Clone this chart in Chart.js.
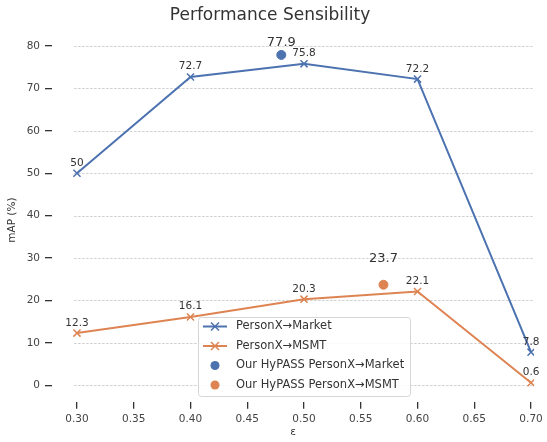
<!DOCTYPE html>
<html>
<head>
<meta charset="utf-8">
<script src="https://cdn.jsdelivr.net/npm/chart.js@4.4.0/dist/chart.umd.min.js"></script>
<style>
  html, body { margin: 0; padding: 0; background: #fff; }
  #wrap { width: 547px; height: 442px; }
</style>
</head>
<body>
<div id="wrap"><canvas id="grafico"></canvas></div>
<script>
// Dados
const epsilons    = [0.30, 0.40, 0.50, 0.60, 0.70];
const mapMarket   = [50, 72.7, 75.8, 72.2, 7.8];
const mapMSMT     = [12.3, 16.1, 20.3, 22.1, 0.6];
const hypassMarket = [{ x: 0.48, y: 77.9 }];
const hypassMSMT   = [{ x: 0.57, y: 23.7 }];
const yTicks = [0, 10, 20, 30, 40, 50, 60, 70, 80];
const xTicks = [0.30, 0.35, 0.40, 0.45, 0.50, 0.55, 0.60, 0.65, 0.70];

const AZUL = '#4C72B0';
const LARANJA = '#DD8452';
const FONTE = "'DejaVu Sans', sans-serif";

const pares = (xs, ys) => xs.map((x, i) => ({ x, y: ys[i] }));

// Grade horizontal tracejada (começa em 0.30, como no original)
const gradePlugin = {
  id: 'grade',
  beforeDatasetsDraw(chart) {
    const { ctx, chartArea, scales } = chart;
    const x0 = scales.x.getPixelForValue(0.2975);
    ctx.save();
    ctx.strokeStyle = '#c4c4c4';
    ctx.lineWidth = 0.8;
    ctx.setLineDash([2.5, 1.5]);
    yTicks.forEach(v => {
      const y = Math.round(scales.y.getPixelForValue(v)) + 0.5;
      ctx.beginPath();
      ctx.moveTo(x0, y);
      ctx.lineTo(chartArea.right, y);
      ctx.stroke();
    });
    ctx.restore();
  }
};

// Rótulos de valores sobre os pontos
const rotulosPlugin = {
  id: 'rotulos',
  afterDatasetsDraw(chart) {
    const { ctx } = chart;
    ctx.save();
    ctx.fillStyle = '#333';
    ctx.textAlign = 'center';
    ctx.textBaseline = 'bottom';
    chart.data.datasets.forEach((ds, i) => {
      const meta = chart.getDatasetMeta(i);
      const grande = ds.type === 'scatter';
      ctx.font = (grande ? '13px ' : '10.5px ') + FONTE;
      const dy = ds.rotuloDy || 5;
      meta.data.forEach((pt, j) => {
        const v = ds.data[j].y;
        ctx.fillText(String(v), pt.x, pt.y - dy);
      });
    });
    ctx.restore();
  }
};

// Legenda dentro da área do gráfico
const legendaPlugin = {
  id: 'legendaInterna',
  afterDraw(chart) {
    const { ctx } = chart;
    const bx = 198, by = 317, bw = 212, bh = 79;
    ctx.save();
    ctx.fillStyle = 'rgba(255,255,255,0.85)';
    ctx.strokeStyle = '#d6d6d6';
    ctx.lineWidth = 1;
    ctx.beginPath();
    ctx.roundRect(bx + 0.5, by + 0.5, bw, bh, 3);
    ctx.fill();
    ctx.stroke();
    ctx.font = '11.5px ' + FONTE;
    ctx.textBaseline = 'middle';
    ctx.textAlign = 'left';
    chart.data.datasets.forEach((ds, i) => {
      const cy = by + 9.5 + i * 19.5;
      if (ds.type === 'scatter') {
        ctx.fillStyle = ds.backgroundColor;
        ctx.beginPath();
        ctx.arc(215, cy, 4.5, 0, Math.PI * 2);
        ctx.fill();
      } else {
        ctx.strokeStyle = ds.borderColor;
        ctx.lineWidth = 2;
        ctx.beginPath();
        ctx.moveTo(203, cy);
        ctx.lineTo(227, cy);
        ctx.stroke();
        ctx.lineWidth = 1.5;
        ctx.beginPath();
        ctx.moveTo(211, cy - 4); ctx.lineTo(219, cy + 4);
        ctx.moveTo(211, cy + 4); ctx.lineTo(219, cy - 4);
        ctx.stroke();
      }
      ctx.fillStyle = '#333';
      ctx.fillText(ds.label, 236, cy);
    });
    ctx.restore();
  }
};

new Chart(document.getElementById('grafico'), {
  type: 'line',
  data: {
    datasets: [
      { label: 'PersonX→Market', data: pares(epsilons, mapMarket), borderColor: AZUL, backgroundColor: AZUL,
        borderWidth: 2, pointStyle: 'crossRot', pointRadius: 5, pointBorderWidth: 1.5, rotuloDy: 5 },
      { label: 'PersonX→MSMT', data: pares(epsilons, mapMSMT), borderColor: LARANJA, backgroundColor: LARANJA,
        borderWidth: 2, pointStyle: 'crossRot', pointRadius: 5, pointBorderWidth: 1.5, rotuloDy: 5 },
      { type: 'scatter', label: 'Our HyPASS PersonX→Market', data: hypassMarket, backgroundColor: AZUL,
        borderColor: AZUL, pointRadius: 4.5, rotuloDy: 6 },
      { type: 'scatter', label: 'Our HyPASS PersonX→MSMT', data: hypassMSMT, backgroundColor: LARANJA,
        borderColor: LARANJA, pointRadius: 4.5, rotuloDy: 20 },
    ],
  },
  options: {
    responsive: true, maintainAspectRatio: false, animation: false,
    layout: { padding: { left: 6, right: 13, top: 5, bottom: 3 } },
    plugins: {
      legend: { display: false },
      tooltip: { enabled: false },
      title: { display: true, text: 'Performance Sensibility', color: '#333',
        font: { family: FONTE, size: 17, weight: 'normal' }, padding: { top: 0, bottom: 13 } },
    },
    scales: {
      x: {
        type: 'linear', min: 0.278, max: 0.7026,
        afterBuildTicks: s => { s.ticks = xTicks.map(v => ({ value: v })); },
        ticks: { color: '#444', font: { family: FONTE, size: 10.5 }, padding: 4,
          callback: v => v.toFixed(2), maxRotation: 0 },
        grid: { drawOnChartArea: false, color: '#333', tickColor: '#333', tickLength: 7, lineWidth: 1.3 },
        border: { display: false },
        title: { display: true, text: 'ε', color: '#333', font: { family: FONTE, size: 10.5 }, padding: { top: -3, bottom: 0 } },
      },
      y: {
        min: -3.9, max: 81.8,
        afterBuildTicks: s => { s.ticks = yTicks.map(v => ({ value: v })); },
        afterFit: s => { s.width = 46; },
        ticks: { color: '#444', font: { family: FONTE, size: 10.5 }, padding: 5 },
        grid: { drawOnChartArea: false, color: '#333', tickColor: '#333', tickLength: 7, lineWidth: 1.3 },
        border: { display: false },
        title: { display: true, text: 'mAP (%)', color: '#333', font: { family: FONTE, size: 10.5 }, padding: 0 },
      },
    },
  },
  plugins: [gradePlugin, rotulosPlugin, legendaPlugin],
});
</script>
</body>
</html>
